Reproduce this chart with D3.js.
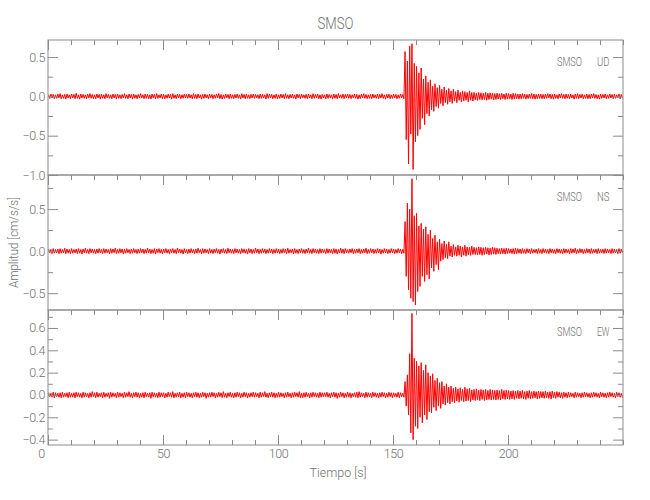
<!DOCTYPE html>
<html><head><meta charset="utf-8">
<script src="https://cdn.jsdelivr.net/npm/d3@7"></script>
<style>
body{margin:0;background:#fff}
text{font-family:Roboto,"DejaVu Sans Condensed",Arial,sans-serif;font-weight:300;fill:#707070}
</style></head><body>
<svg id="c" width="650" height="500"></svg>
<script>
// ---- DATA (1-s bins, t = 0..249 s; per-bin max and min amplitude in cm/s/s) ----
const title = "SMSO";
const station = "SMSO";
const components = ["UD", "NS", "EW"];
const xTicks = [0, 50, 100, 150, 200];

const udHi = [.02,.03,.025,.02,.03,.035,.02,.025,.03,.02,
.03,.025,.04,.02,.03,.025,.02,.03,.035,.025,
.02,.03,.025,.03,.02,.035,.025,.02,.03,.025,
.03,.02,.025,.035,.02,.03,.025,.03,.02,.025,
.035,.02,.03,.025,.02,.03,.025,.035,.02,.03,
.025,.02,.03,.025,.035,.02,.03,.025,.02,.03,
.025,.03,.02,.035,.025,.03,.02,.025,.03,.02,
.03,.025,.02,.03,.035,.025,.02,.03,.025,.03,
.02,.025,.03,.02,.035,.025,.03,.02,.025,.03,
.025,.02,.03,.025,.02,.035,.03,.025,.02,.03,
.02,.03,.025,.035,.02,.025,.03,.02,.03,.025,
.03,.02,.025,.03,.02,.035,.025,.03,.02,.025,
.02,.03,.025,.02,.03,.025,.035,.02,.03,.025,
.03,.025,.02,.03,.025,.02,.03,.035,.025,.02,
.025,.03,.02,.03,.025,.035,.02,.025,.03,.02,
.03,.025,.02,.03,.025,
.57,.45,.64,.67,.42,.38,.3,.36,.22,.26,
.18,.21,.13,.16,.11,.14,.09,.12,.08,.1,
.07,.09,.06,.08,.05,.07,.06,.05,.07,.05,
.05,.04,.05,.045,.04,.05,.04,.045,.04,.035,
.04,.035,.04,.03,.04,.035,.03,.04,.035,.03,
.03,.035,.03,.025,.03,.035,.03,.025,.03,.03,
.025,.03,.035,.03,.025,.03,.02,.03,.035,.025,
.03,.025,.03,.02,.03,.035,.025,.03,.02,.03,
.025,.03,.035,.025,.02,.03,.025,.03,.02,.03,
.025,.03,.02,.03,.025];
const udLo = [-.025,-.02,-.03,-.025,-.02,-.03,-.025,-.035,-.02,-.03,
-.02,-.03,-.025,-.035,-.02,-.025,-.03,-.02,-.025,-.03,
-.03,-.02,-.035,-.025,-.03,-.02,-.025,-.03,-.02,-.035,
-.025,-.03,-.02,-.025,-.03,-.02,-.035,-.025,-.03,-.02,
-.02,-.03,-.025,-.03,-.035,-.02,-.03,-.025,-.02,-.03,
-.03,-.025,-.02,-.035,-.025,-.03,-.02,-.03,-.025,-.02,
-.025,-.02,-.03,-.025,-.03,-.02,-.035,-.025,-.02,-.03,
-.02,-.03,-.025,-.02,-.03,-.035,-.025,-.02,-.03,-.025,
-.03,-.02,-.025,-.035,-.02,-.03,-.025,-.03,-.02,-.025,
-.02,-.03,-.025,-.02,-.035,-.025,-.02,-.03,-.025,-.03,
-.025,-.02,-.03,-.025,-.03,-.02,-.025,-.035,-.02,-.03,
-.02,-.025,-.03,-.02,-.03,-.025,-.02,-.03,-.035,-.02,
-.03,-.025,-.02,-.035,-.025,-.03,-.02,-.025,-.03,-.02,
-.025,-.03,-.02,-.025,-.035,-.03,-.02,-.025,-.03,-.025,
-.03,-.02,-.025,-.03,-.02,-.025,-.035,-.02,-.03,-.025,
-.02,-.03,-.025,-.02,-.03,
-.55,-.86,-.48,-.93,-.58,-.5,-.42,-.28,-.36,-.22,
-.25,-.17,-.19,-.13,-.15,-.09,-.12,-.08,-.1,-.07,
-.09,-.06,-.08,-.05,-.07,-.06,-.05,-.07,-.05,-.06,
-.045,-.05,-.04,-.045,-.04,-.05,-.04,-.035,-.045,-.04,
-.035,-.04,-.03,-.04,-.035,-.03,-.04,-.035,-.03,-.035,
-.03,-.025,-.035,-.03,-.025,-.03,-.035,-.03,-.025,-.03,
-.03,-.025,-.02,-.03,-.035,-.025,-.03,-.02,-.025,-.03,
-.025,-.03,-.02,-.035,-.025,-.03,-.02,-.03,-.025,-.03,
-.03,-.02,-.025,-.03,-.035,-.025,-.02,-.03,-.025,-.02,
-.03,-.025,-.02,-.03,-.025];

const nsHi = [.025,.02,.03,.02,.025,.03,.02,.035,.025,.02,
.03,.02,.025,.03,.02,.025,.035,.02,.03,.025,
.02,.025,.03,.02,.03,.025,.02,.03,.025,.035,
.02,.03,.025,.02,.03,.02,.025,.03,.02,.025,
.03,.025,.02,.035,.025,.02,.03,.025,.03,.02,
.025,.03,.02,.025,.03,.02,.035,.025,.02,.03,
.02,.025,.03,.02,.025,.035,.02,.03,.025,.02,
.03,.02,.025,.03,.02,.025,.03,.02,.035,.025,
.02,.03,.025,.02,.03,.025,.02,.03,.025,.02,
.035,.025,.02,.03,.025,.02,.03,.025,.02,.03,
.025,.02,.03,.025,.035,.02,.025,.03,.02,.025,
.03,.02,.025,.035,.02,.03,.025,.02,.03,.025,
.02,.03,.025,.02,.03,.025,.02,.035,.025,.03,
.02,.025,.03,.02,.025,.03,.02,.025,.035,.02,
.03,.025,.02,.03,.025,.02,.03,.025,.02,.03,
.025,.02,.03,.025,.02,
.35,.57,.5,.86,.42,.45,.3,.33,.26,.29,
.2,.25,.15,.19,.11,.14,.09,.12,.08,.11,
.06,.08,.05,.07,.06,.05,.07,.05,.045,.06,
.045,.04,.05,.045,.04,.045,.04,.035,.045,.04,
.035,.03,.035,.03,.035,.03,.025,.03,.035,.03,
.025,.03,.02,.03,.025,.03,.02,.025,.03,.02,
.03,.025,.02,.03,.025,.02,.03,.025,.02,.03,
.025,.02,.03,.025,.035,.02,.03,.025,.02,.03,
.025,.03,.02,.025,.03,.02,.025,.03,.025,.02,
.03,.025,.02,.03,.025];
const nsLo = [-.02,-.03,-.025,-.02,-.03,-.025,-.02,-.03,-.025,-.03,
-.025,-.02,-.03,-.025,-.035,-.02,-.025,-.03,-.02,-.025,
-.03,-.025,-.02,-.03,-.025,-.02,-.03,-.025,-.02,-.03,
-.025,-.02,-.035,-.025,-.02,-.03,-.025,-.02,-.03,-.025,
-.02,-.03,-.025,-.02,-.03,-.025,-.035,-.02,-.025,-.03,
-.02,-.025,-.03,-.02,-.025,-.03,-.02,-.025,-.035,-.02,
-.03,-.025,-.02,-.03,-.025,-.02,-.03,-.025,-.02,-.03,
-.025,-.03,-.02,-.025,-.035,-.02,-.025,-.03,-.02,-.025,
-.03,-.02,-.025,-.03,-.02,-.025,-.035,-.02,-.03,-.025,
-.02,-.03,-.025,-.02,-.03,-.025,-.02,-.03,-.025,-.02,
-.03,-.025,-.02,-.03,-.025,-.02,-.035,-.025,-.03,-.02,
-.025,-.03,-.02,-.025,-.03,-.02,-.025,-.03,-.025,-.02,
-.03,-.025,-.02,-.03,-.025,-.035,-.02,-.025,-.03,-.02,
-.025,-.02,-.03,-.025,-.02,-.03,-.025,-.02,-.03,-.025,
-.02,-.03,-.025,-.02,-.035,-.025,-.02,-.03,-.025,-.02,
-.03,-.025,-.02,-.03,-.025,
-.3,-.46,-.56,-.6,-.64,-.48,-.42,-.3,-.36,-.28,
-.33,-.2,-.24,-.16,-.22,-.12,-.1,-.08,-.09,-.06,
-.07,-.05,-.06,-.05,-.07,-.05,-.06,-.045,-.05,-.04,
-.04,-.045,-.04,-.05,-.04,-.035,-.045,-.04,-.035,-.04,
-.03,-.035,-.03,-.035,-.03,-.025,-.03,-.035,-.03,-.025,
-.03,-.025,-.03,-.02,-.03,-.025,-.02,-.03,-.025,-.03,
-.02,-.025,-.03,-.02,-.025,-.03,-.02,-.025,-.03,-.025,
-.02,-.03,-.025,-.02,-.03,-.025,-.02,-.03,-.025,-.02,
-.03,-.025,-.02,-.03,-.025,-.02,-.03,-.025,-.02,-.03,
-.025,-.02,-.03,-.025,-.02];

const ewHi = [.02,.015,.025,.02,.015,.02,.025,.015,.02,.025,
.015,.02,.025,.02,.015,.025,.02,.015,.02,.03,
.02,.025,.015,.02,.025,.015,.02,.025,.02,.015,
.025,.02,.015,.025,.02,.03,.015,.02,.025,.02,
.015,.02,.025,.015,.02,.025,.02,.015,.025,.02,
.02,.015,.025,.02,.03,.015,.02,.025,.015,.02,
.025,.02,.015,.02,.025,.02,.015,.025,.02,.015,
.02,.025,.02,.015,.025,.02,.03,.015,.02,.025,
.015,.02,.025,.02,.015,.025,.02,.015,.02,.025,
.02,.015,.025,.02,.03,.015,.02,.025,.02,.015,
.025,.02,.015,.02,.025,.015,.02,.025,.02,.03,
.015,.02,.025,.015,.02,.025,.02,.015,.025,.02,
.02,.025,.015,.02,.025,.02,.015,.025,.02,.015,
.025,.02,.015,.02,.025,.03,.02,.015,.025,.02,
.015,.025,.02,.015,.02,.025,.02,.015,.025,.02,
.02,.015,.025,.02,.015,
.12,.18,.37,.73,.33,.3,.26,.29,.22,.27,
.2,.17,.19,.13,.15,.11,.12,.08,.1,.07,
.08,.06,.07,.055,.065,.05,.07,.055,.06,.045,
.05,.055,.045,.05,.045,.05,.04,.05,.045,.04,
.045,.04,.05,.04,.045,.04,.035,.04,.035,.04,
.035,.04,.03,.035,.04,.03,.035,.03,.035,.03,
.03,.035,.025,.03,.035,.025,.03,.025,.02,.025,
.02,.025,.02,.015,.025,.02,.015,.02,.025,.02,
.015,.02,.025,.02,.015,.025,.02,.015,.02,.025,
.02,.015,.025,.02,.015];
const ewLo = [-.015,-.02,-.025,-.015,-.02,-.025,-.02,-.015,-.025,-.02,
-.02,-.025,-.015,-.02,-.025,-.02,-.015,-.025,-.02,-.015,
-.025,-.02,-.015,-.025,-.02,-.015,-.03,-.02,-.015,-.025,
-.02,-.015,-.025,-.02,-.015,-.02,-.025,-.015,-.02,-.025,
-.02,-.025,-.015,-.02,-.03,-.015,-.02,-.025,-.02,-.015,
-.025,-.02,-.015,-.02,-.025,-.02,-.015,-.025,-.02,-.025,
-.015,-.02,-.025,-.015,-.02,-.025,-.02,-.015,-.03,-.02,
-.02,-.015,-.025,-.02,-.015,-.025,-.02,-.025,-.015,-.02,
-.025,-.02,-.015,-.025,-.02,-.015,-.025,-.02,-.015,-.02,
-.015,-.025,-.02,-.015,-.02,-.025,-.015,-.02,-.025,-.02,
-.02,-.015,-.025,-.02,-.015,-.025,-.02,-.015,-.02,-.025,
-.025,-.02,-.015,-.025,-.02,-.015,-.02,-.025,-.02,-.015,
-.015,-.02,-.025,-.015,-.02,-.03,-.02,-.015,-.025,-.02,
-.02,-.025,-.015,-.02,-.025,-.02,-.015,-.025,-.02,-.015,
-.025,-.015,-.02,-.025,-.02,-.015,-.025,-.02,-.015,-.025,
-.015,-.02,-.025,-.015,-.02,
-.1,-.18,-.34,-.4,-.28,-.3,-.2,-.25,-.18,-.22,
-.15,-.16,-.11,-.14,-.1,-.12,-.08,-.09,-.07,-.08,
-.06,-.07,-.055,-.065,-.05,-.06,-.055,-.05,-.06,-.045,
-.05,-.045,-.05,-.04,-.05,-.045,-.04,-.045,-.04,-.045,
-.04,-.045,-.035,-.04,-.035,-.04,-.035,-.04,-.03,-.035,
-.03,-.035,-.04,-.03,-.035,-.03,-.025,-.035,-.03,-.025,
-.03,-.025,-.03,-.035,-.025,-.03,-.02,-.025,-.03,-.02,
-.025,-.02,-.015,-.025,-.02,-.015,-.025,-.02,-.015,-.02,
-.025,-.02,-.015,-.02,-.025,-.015,-.02,-.025,-.02,-.015,
-.02,-.025,-.015,-.02,-.025];

const yDomains = [[-1.0, 0.717], [-0.70, 0.905], [-0.448, 0.761]];
const yMajor = [[-1.0, -0.5, 0.0, 0.5], [-0.5, 0.0, 0.5], [-0.4, -0.2, 0.0, 0.2, 0.4, 0.6]];
const yMinor = [[-0.75, -0.25, 0.25], [-0.25, 0.25, 0.75], [-0.3, -0.1, 0.1, 0.3, 0.5, 0.7]];
const traces = [[udHi, udLo], [nsHi, nsLo], [ewHi, ewLo]];

// ---- LAYOUT ----
const svg = d3.select("#c");
const L = 48, R = 623, T = 40, PH = 135;
const axisColor = "#8c8c8c";
const x = d3.scaleLinear().domain([0, 250]).range([L, R]);
const xMinor = d3.range(0, 251, 10).filter(v => !xTicks.includes(v));

svg.append("text").attr("x", (L + R) / 2).attr("y", 29).attr("text-anchor", "middle")
  .attr("font-size", 17).attr("textLength", 36).attr("lengthAdjust", "spacingAndGlyphs").text(title);

function styleAxis(g) {
  g.select(".domain").remove();
  g.selectAll(".tick line").attr("stroke", axisColor);
  g.selectAll(".tick text").attr("fill", "#707070").attr("font-size", 12.5)
    .attr("font-family", null).style("letter-spacing", "-0.4px");
}

traces.forEach((tr, p) => {
  const top = T + p * PH, bot = top + PH;
  const y = d3.scaleLinear().domain(yDomains[p]).range([bot, top]);
  const g = svg.append("g");
  const clipId = "clip" + p;
  svg.append("clipPath").attr("id", clipId).append("rect")
    .attr("x", L).attr("y", top).attr("width", R - L).attr("height", PH);

  // trace
  const pts = [];
  tr[0].forEach((hi, i) => { pts.push([i + 0.25, hi]); pts.push([i + 0.75, tr[1][i]]); });
  const line = d3.line().x(d => x(d[0])).y(d => y(d[1]));
  g.append("path").attr("d", line(pts)).attr("fill", "none").attr("stroke", "#ff0000")
    .attr("stroke-width", 1).attr("clip-path", `url(#${clipId})`);

  // frame
  g.append("rect").attr("x", L).attr("y", top).attr("width", R - L).attr("height", PH)
    .attr("fill", "none").attr("stroke", axisColor).attr("stroke-width", 1);

  // left axis
  g.append("g").attr("transform", `translate(${L},0)`)
    .call(d3.axisLeft(y).tickValues(yMajor[p]).tickSize(-10).tickPadding(3).tickFormat(d3.format(".1f")))
    .call(styleAxis);
  g.append("g").attr("transform", `translate(${L},0)`)
    .call(d3.axisLeft(y).tickValues(yMinor[p]).tickSize(-5).tickFormat("")).call(styleAxis);
  // right axis
  g.append("g").attr("transform", `translate(${R},0)`)
    .call(d3.axisRight(y).tickValues(yMajor[p]).tickSize(-10).tickFormat("")).call(styleAxis);
  g.append("g").attr("transform", `translate(${R},0)`)
    .call(d3.axisRight(y).tickValues(yMinor[p]).tickSize(-5).tickFormat("")).call(styleAxis);
  // top ticks
  g.append("g").attr("transform", `translate(0,${top})`)
    .call(d3.axisTop(x).tickValues(xTicks).tickSize(-10).tickFormat("")).call(styleAxis);
  g.append("g").attr("transform", `translate(0,${top})`)
    .call(d3.axisTop(x).tickValues(xMinor).tickSize(-5).tickFormat("")).call(styleAxis);

  // component label
  g.append("text").attr("x", 557).attr("y", top + 26).attr("font-size", 13)
    .attr("textLength", 25).attr("lengthAdjust", "spacingAndGlyphs").text(station);
  g.append("text").attr("x", 597).attr("y", top + 26).attr("font-size", 13)
    .attr("textLength", 12.5).attr("lengthAdjust", "spacingAndGlyphs").text(components[p]);

  if (p === traces.length - 1) {
    const bx = g.append("g").attr("transform", `translate(0,${bot})`)
      .call(d3.axisBottom(x).tickValues(xTicks).tickSize(-10).tickPadding(4).tickFormat(d3.format("d")))
      .call(styleAxis);
    bx.selectAll(".tick text").filter(d => d === 0).attr("dx", -7);
    g.append("g").attr("transform", `translate(0,${bot})`)
      .call(d3.axisBottom(x).tickValues(xMinor).tickSize(-5).tickFormat("")).call(styleAxis);
  }
});

svg.append("text").attr("x", 338).attr("y", 477).attr("text-anchor", "middle").attr("font-size", 13)
  .attr("textLength", 57).attr("lengthAdjust", "spacingAndGlyphs").text("Tiempo [s]");
svg.append("text").attr("transform", "translate(18,242.5) rotate(-90)").attr("text-anchor", "middle")
  .attr("font-size", 13).attr("textLength", 91).attr("lengthAdjust", "spacingAndGlyphs").text("Amplitud [cm/s/s]");
</script></body></html>
